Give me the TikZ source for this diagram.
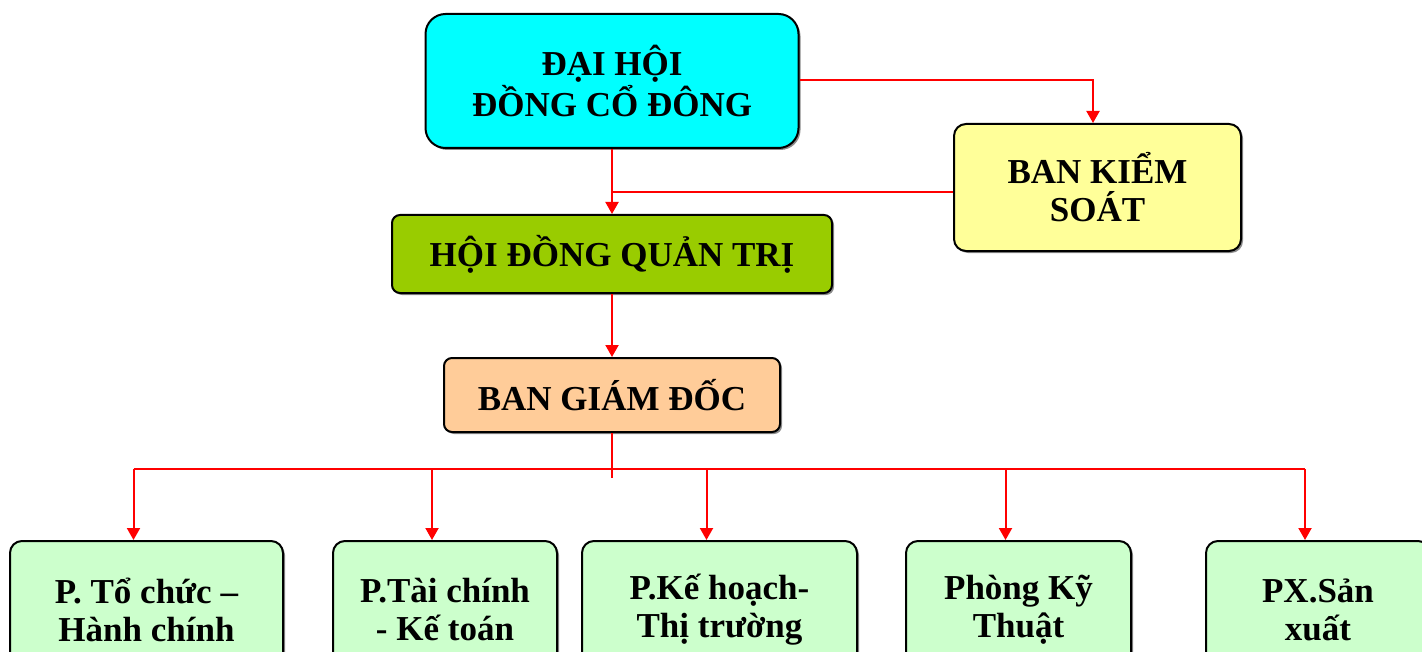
\documentclass[tikz,border=0pt]{standalone}
\usepackage{fontspec}
\setmainfont{Liberation Serif}
\usetikzlibrary{arrows.meta,shadows}

\definecolor{dhcyan}{HTML}{00FFFF}
\definecolor{bksyellow}{HTML}{FFFF99}
\definecolor{hdqtgreen}{HTML}{99CC00}
\definecolor{bgdorange}{HTML}{FFCC99}
\definecolor{phonggreen}{HTML}{CCFFCC}
\definecolor{linkred}{HTML}{FF0000}

\begin{document}
\begin{tikzpicture}[x=0.5pt,y=-0.5pt,
  >={Triangle[width=6.5pt,length=6pt]},
  box/.style={draw=black,line width=1pt,inner sep=0pt,align=center,
    font=\fontsize{17.5}{19}\selectfont\bfseries,
    drop shadow={shadow xshift=1pt,shadow yshift=-1pt,fill=black!45,opacity=1}},
  link/.style={draw=linkred,line width=1pt}]
\useasboundingbox (0,0) rectangle (1422,652);
% top level
\node[box,fill=dhcyan,rounded corners=10pt,minimum width=186.5pt,minimum height=67pt]
  (dhdcd) at (612,81) {ĐẠI HỘI\\ĐỒNG CỔ ĐÔNG};
\node[box,fill=bksyellow,rounded corners=6pt,minimum width=143.5pt,minimum height=63.5pt]
  (bks) at (1097.5,187.5) {BAN KIỂM\\SOÁT};
\node[box,fill=hdqtgreen,rounded corners=4pt,minimum width=220pt,minimum height=39pt]
  (hdqt) at (612,254) {HỘI ĐỒNG QUẢN TRỊ};
\node[box,fill=bgdorange,rounded corners=4pt,minimum width=168pt,minimum height=37pt]
  (bgd) at (612,395) {BAN GIÁM ĐỐC};
% departments
\node[box,fill=phonggreen,rounded corners=6pt,minimum width=136.5pt,minimum height=69pt]
  (p1) at (146.5,610) {P. Tổ chức –\\Hành chính};
\node[box,fill=phonggreen,rounded corners=6pt,minimum width=112pt,minimum height=69pt]
  (p2) at (445,610) {P.Tài chính\\- Kế toán};
\node[box,fill=phonggreen,rounded corners=6pt,minimum width=137.5pt,minimum height=69pt]
  (p3) at (719.5,610) {P.Kế hoạch-\\Thị trường};
\node[box,fill=phonggreen,rounded corners=6pt,minimum width=112.5pt,minimum height=69pt]
  (p4) at (1018.5,610) {Phòng Kỹ\\Thuật};
\node[box,fill=phonggreen,rounded corners=6pt,minimum width=112pt,minimum height=69pt]
  (p5) at (1318,610) {PX.Sản\\xuất};
% connectors
\coordinate (bkstop) at (1093,80);
\coordinate (join) at (612,192);
\coordinate (fork) at (612,478);
\draw[link,->] (dhdcd.east |- bkstop) -| ([xshift=-2.25pt]bks.north);
\draw[link,->] (dhdcd.south) -- (hdqt.north);
\draw[link] (bks.west |- join) -- (join);
\draw[link,->] (hdqt.south) -- (bgd.north);
\draw[link] (bgd.south) -- (fork);
\draw[link] ([xshift=-6.5pt,yshift=35.5pt]p1.north) -- ([xshift=-6.5pt,yshift=35.5pt]p5.north);
\foreach \p in {p1,p2,p3,p4,p5}
  \draw[link,->] ([xshift=-6.5pt,yshift=35.5pt]\p.north) -- ([xshift=-6.5pt]\p.north);
\end{tikzpicture}
\end{document}
